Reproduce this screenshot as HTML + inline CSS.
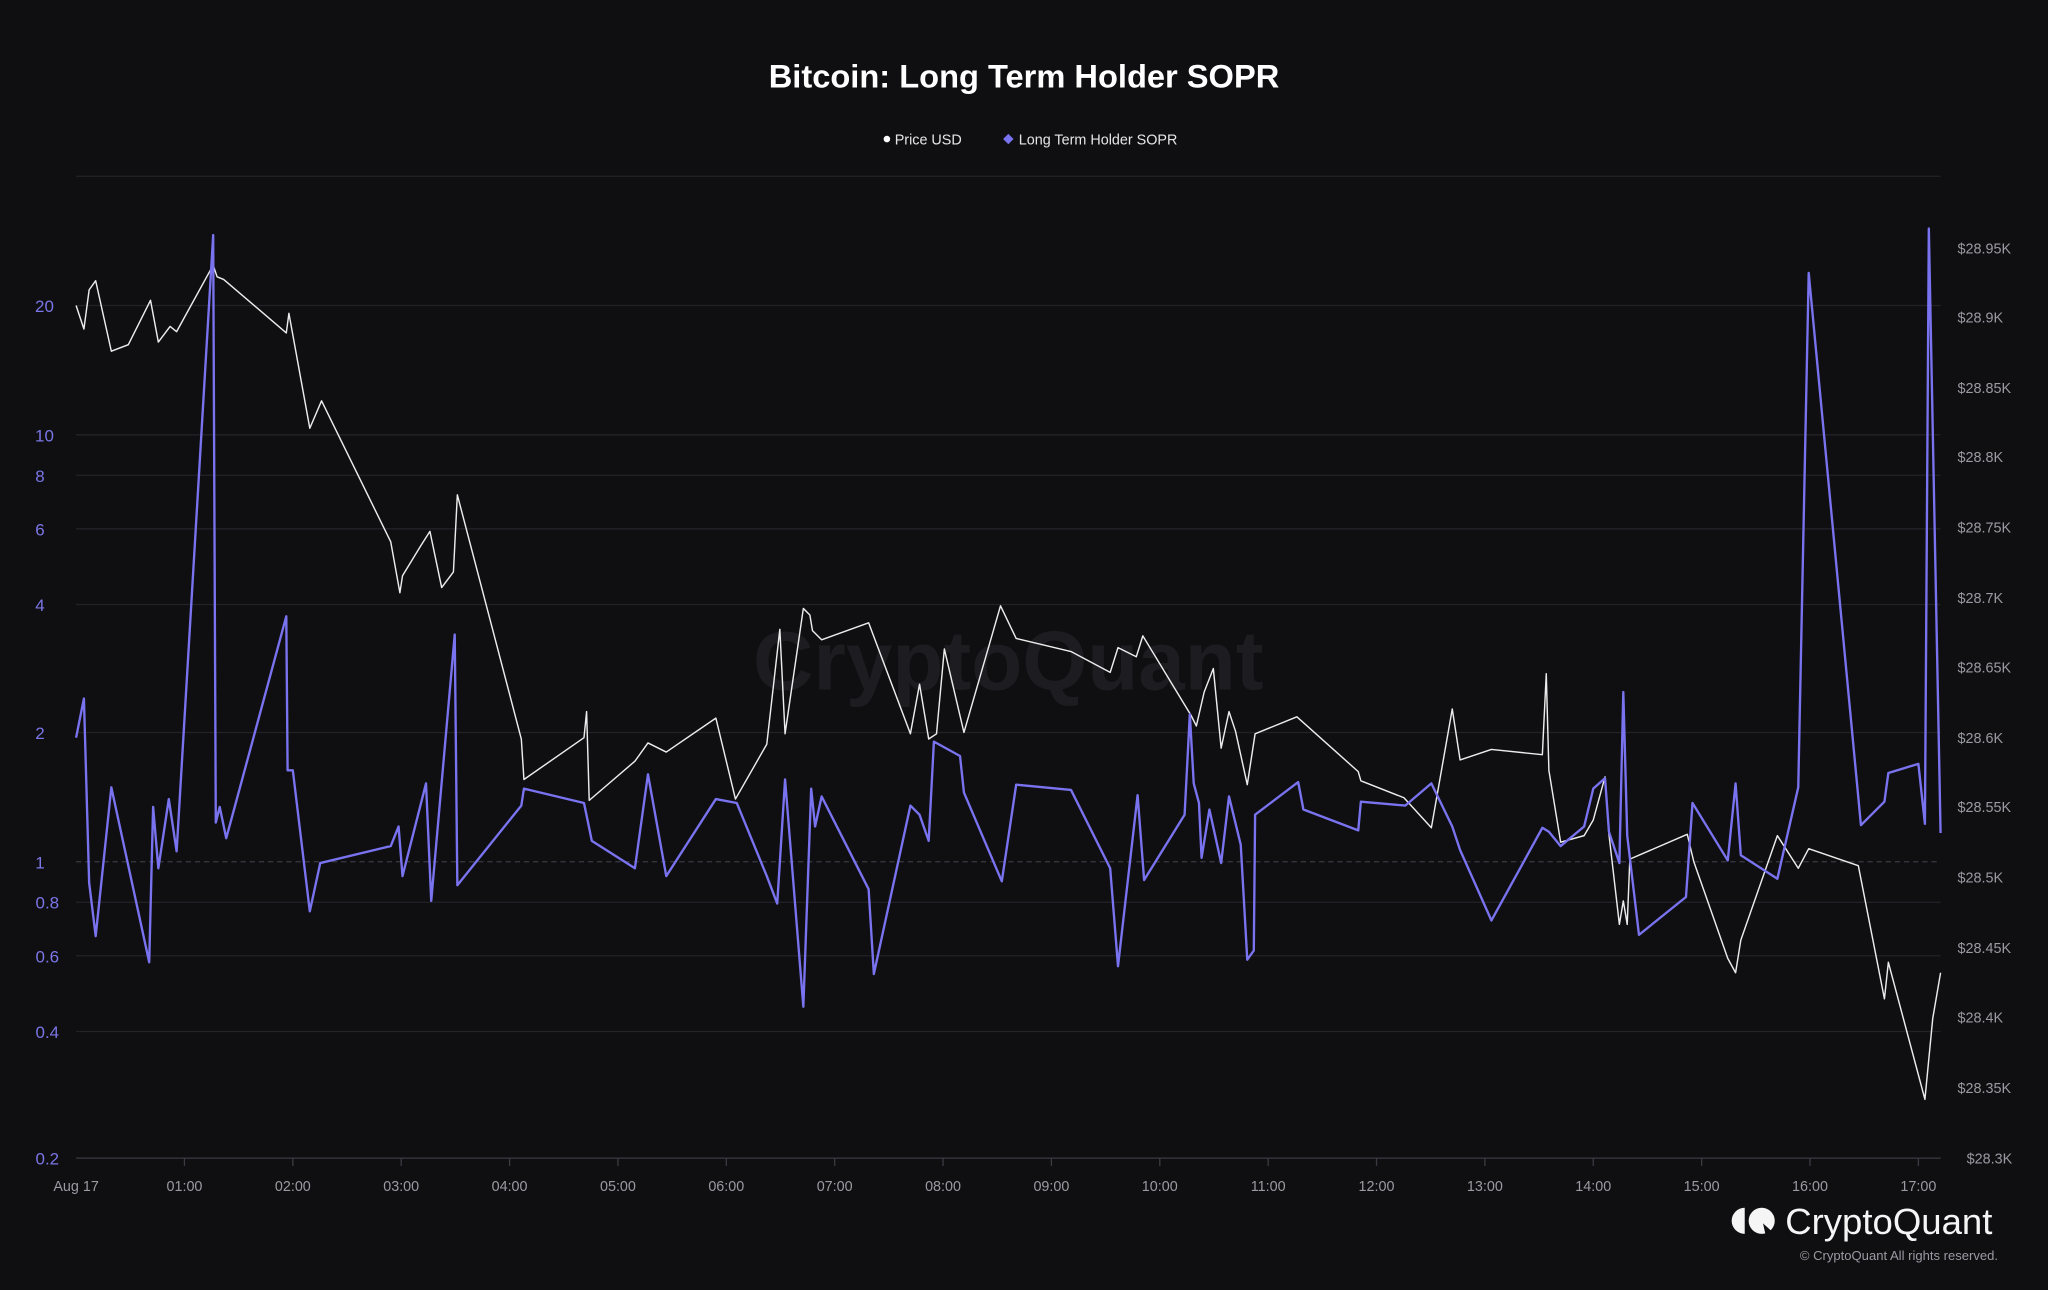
<!DOCTYPE html>
<html><head><meta charset="utf-8"><style>
html,body{margin:0;padding:0;background:#0f0f12;}
svg{display:block;}
text{font-family:"Liberation Sans",sans-serif;}
</style></head><body>
<svg width="2048" height="1290" viewBox="0 0 1568 988" xmlns="http://www.w3.org/2000/svg">
<rect width="1568" height="988" fill="#0f0f12"/>
<text x="784" y="67" text-anchor="middle" fill="#fff" font-size="25" font-weight="bold">Bitcoin: Long Term Holder SOPR</text>
<circle cx="679" cy="106.5" r="2.5" fill="#fff"/>
<text x="685" y="110.5" fill="#e6e6e6" font-size="11">Price USD</text>
<path d="M772 102.5 L776 106.5 L772 110.5 L768 106.5Z" fill="#7a73f0"/>
<text x="780" y="110.5" fill="#e6e6e6" font-size="11">Long Term Holder SOPR</text>
<g stroke="#222228" stroke-width="1">
<line x1="58" y1="135" x2="1486" y2="135"/>
<line x1="58" y1="234" x2="1486" y2="234"/>
<line x1="58" y1="333" x2="1486" y2="333"/>
<line x1="58" y1="364" x2="1486" y2="364"/>
<line x1="58" y1="405" x2="1486" y2="405"/>
<line x1="58" y1="463" x2="1486" y2="463"/>
<line x1="58" y1="561" x2="1486" y2="561"/>
<line x1="58" y1="691" x2="1486" y2="691"/>
<line x1="58" y1="732" x2="1486" y2="732"/>
<line x1="58" y1="790" x2="1486" y2="790"/>
</g>
<line x1="58" y1="660" x2="1486" y2="660" stroke="#3a3a44" stroke-dasharray="4,3"/>
<line x1="58" y1="887" x2="1486" y2="887" stroke="#3a3a42"/>
<g fill="#7b76e6" font-size="13" text-anchor="end">
<text x="41" y="239">20</text><text x="41" y="338">10</text><text x="34" y="369">8</text>
<text x="34" y="410">6</text><text x="34" y="468">4</text><text x="34" y="566">2</text>
<text x="34" y="665">1</text><text x="45" y="696">0.8</text><text x="45" y="737">0.6</text>
<text x="45" y="795">0.4</text><text x="45" y="892">0.2</text>
</g>
<g fill="#9a9aa2" font-size="11">
<text x="1499" y="194">$28.95K</text><text x="1499" y="247">$28.9K</text><text x="1499" y="301">$28.85K</text>
<text x="1499" y="354">$28.8K</text><text x="1499" y="408">$28.75K</text><text x="1499" y="462">$28.7K</text>
<text x="1499" y="515">$28.65K</text><text x="1499" y="569">$28.6K</text><text x="1499" y="622">$28.55K</text>
<text x="1499" y="676">$28.5K</text><text x="1499" y="730">$28.45K</text><text x="1499" y="783">$28.4K</text>
<text x="1499" y="837">$28.35K</text><text x="1506" y="891">$28.3K</text>
</g>
<g stroke="#3a3a42">
<line x1="141" y1="887" x2="141" y2="893"/><line x1="224" y1="887" x2="224" y2="893"/><line x1="307" y1="887" x2="307" y2="893"/>
<line x1="390" y1="887" x2="390" y2="893"/><line x1="473" y1="887" x2="473" y2="893"/><line x1="556" y1="887" x2="556" y2="893"/>
<line x1="639" y1="887" x2="639" y2="893"/><line x1="722" y1="887" x2="722" y2="893"/><line x1="805" y1="887" x2="805" y2="893"/>
<line x1="888" y1="887" x2="888" y2="893"/><line x1="971" y1="887" x2="971" y2="893"/><line x1="1054" y1="887" x2="1054" y2="893"/>
<line x1="1137" y1="887" x2="1137" y2="893"/><line x1="1220" y1="887" x2="1220" y2="893"/><line x1="1303" y1="887" x2="1303" y2="893"/>
<line x1="1386" y1="887" x2="1386" y2="893"/><line x1="1469" y1="887" x2="1469" y2="893"/>
</g>
<g fill="#9a9aa2" font-size="11" text-anchor="middle">
<text x="58" y="912">Aug 17</text><text x="141" y="912">01:00</text><text x="224" y="912">02:00</text><text x="307" y="912">03:00</text>
<text x="390" y="912">04:00</text><text x="473" y="912">05:00</text><text x="556" y="912">06:00</text><text x="639" y="912">07:00</text>
<text x="722" y="912">08:00</text><text x="805" y="912">09:00</text><text x="888" y="912">10:00</text><text x="971" y="912">11:00</text>
<text x="1054" y="912">12:00</text><text x="1137" y="912">13:00</text><text x="1220" y="912">14:00</text><text x="1303" y="912">15:00</text>
<text x="1386" y="912">16:00</text><text x="1469" y="912">17:00</text>
</g>
<text x="772" y="528" text-anchor="middle" fill="#26262c" font-size="64" font-weight="bold" opacity="0.6">CryptoQuant</text>
<polyline fill="none" stroke="#ececec" stroke-width="1.1" stroke-linejoin="round" points="58,234 64,252 68,222 73,215 85,269 98,264 115,230 121,262 130,250 135,254 163,203 166,212 171,214 219,255 221,240 237,328 246,307 299,415 306,454 308,441 322,418 329,407 338,450 347,438 350,379 399,566 401,597 447,565 449,545 451,613 486,583 496,569 510,576 548,550 563,612 587,570 597,482 601,562 615,466 620,471 622,483 629,490 665,477 697,562 704,524 711,566 717,562 723,497 738,561 766,464 778,489 820,499 850,515 856,496 870,503 875,487 912,548 916,556 922,530 929,512 935,573 941,545 946,560 955,601 961,562 993,549 1040,591 1042,598 1075,611 1096,634 1112,543 1118,582 1142,574 1181,578 1184,516 1186,590 1195,645 1213,640 1220,628 1229,595 1232,639 1240,708 1243,690 1246,708 1248,658 1255,655 1292,639 1297,660 1323,734 1329,745 1333,720 1361,640 1377,665 1385,650 1423,663 1443,765 1446,737 1474,842 1480,780 1486,745"/>
<polyline fill="none" stroke="#7a73f0" stroke-width="1.8" stroke-linejoin="round" points="58,565 64,535 68,676 73,717 85,603 114,737 117,618 121,665 129,612 135,652 163,180 165,630 168,618 173,642 219,472 220,590 224,590 237,698 245,661 299,648 305,633 308,671 326,600 330,690 348,486 350,678 399,617 401,604 447,615 453,644 486,665 496,593 510,671 548,612 564,615 587,671 595,692 601,597 615,771 621,604 624,633 629,610 665,681 669,746 697,617 704,624 711,644 715,568 735,579 738,607 767,675 778,601 820,605 850,665 856,740 871,609 876,674 907,624 911,547 914,600 918,615 920,657 926,620 935,661 941,610 950,647 955,735 960,728 961,624 994,599 998,620 1040,636 1042,614 1076,617 1096,600 1112,633 1118,651 1142,705 1181,634 1186,637 1195,648 1213,633 1220,604 1229,596 1232,637 1240,661 1243,530 1246,640 1255,716 1291,687 1296,615 1323,659 1329,600 1333,655 1361,673 1377,603 1385,209 1425,632 1443,614 1446,592 1469,585 1474,631 1477,175 1486,638"/>
<g fill="#f5f5f5">
<path d="M1336 925 A10 10 0 0 0 1336 945 Z"/>
<circle cx="1349" cy="935" r="10"/>
</g>
<path d="M1350 937 L1360 946 L1352 946 Z" fill="#0f0f12"/>
<text x="1367" y="945" fill="#f5f5f5" font-size="28">CryptoQuant</text>
<text x="1530" y="965" text-anchor="end" fill="#9a9aa2" font-size="10">© CryptoQuant All rights reserved.</text>
</svg>
</body></html>
